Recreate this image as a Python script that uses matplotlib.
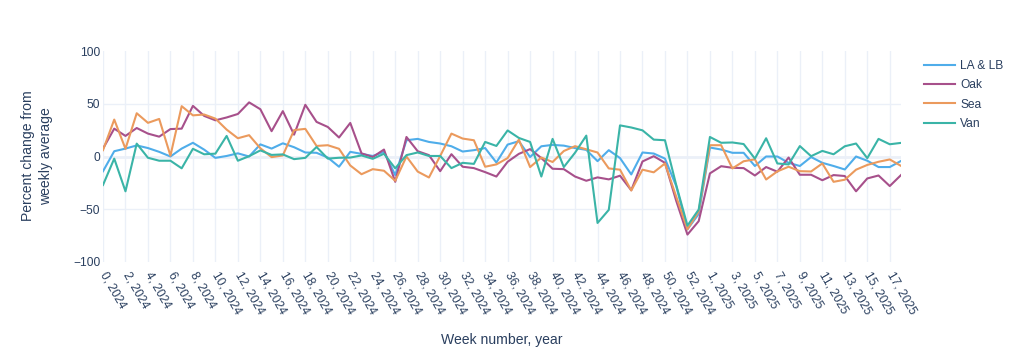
import matplotlib
matplotlib.use("Agg")
import matplotlib.pyplot as plt

weeks_2024 = [f"{w}, 2024" for w in range(0, 53)]
weeks_2025 = [f"{w}, 2025" for w in range(0, 19)]
categories = weeks_2024 + weeks_2025

la_lb = [-14, 5, 7.5, 10.5, 8, 4.4, 0, 7.5, 13, 6.5, -1.3, 0.5, 3, 0, 11.5, 7.5, 12.5, 8.8, 3.8, 3.5,
         -1, -9.7, 4.4, 2.5, 0.5, 4.4, -17.6, 15.4, 16.7, 13.8, 12.3, 9.7, 4.7, 6, 8, -5.7, 11.3, 14.5, -0.5, 9.7,
         11, 10.3, 8, 6.3, -4.4, 6, -1.5, -17, 3.8, 2.8, -2, -28, -69, -54.5, 8.5, 6.6, 3.5, 3.5, -9, 0,
         0, -6, -9, -0.5, -6, -9, -12.3, 0, -4, -10, -10, -4.2]
oak = [7.5, 26.4, 19.5, 27, 21.7, 18.8, 26, 26.4, 48, 38.5, 34.3, 37, 40.3, 51.3, 44.8, 24, 43, 20.7, 49, 32.8,
       28, 18, 31.8, 3, -0.5, 6.6, -24, 18.5, 5, 1.3, -13.9, 2.2, -9.7, -11, -14.8, -19, -5, 2.5, 7, -1.5,
       -11.6, -12, -19, -23, -19.8, -21.7, -18.2, -32, -4.7, 0.3, -6, -42, -74, -61.3, -16, -9.2, -10.7, -11, -18, -10,
       -14.4, -1, -17.3, -17.3, -22.5, -17.6, -18.5, -33, -20.8, -18, -28, -17.6]
sea = [6, 35, 7.3, 41, 31.9, 35.6, 0.8, 47.7, 39, 39.8, 35.9, 25.5, 17.3, 20.2, 7.8, -0.6, 1, 25, 26.2, 10,
       10.7, 7.3, -8.5, -16.8, -12, -13.5, -23, 0, -14.3, -19.9, 0.5, 21.7, 17, 15.4, -9.7, -7.5, -1.5, 16, -10, -1,
       -5.2, 5.2, 9.8, 6.8, 3.8, -11.3, -12.5, -32.2, -12.5, -15, -6.6, -38, -69, -52, 10.7, 10.7, -11.3, -4.5, -2.7, -21.8,
       -14.1, -9.7, -13.9, -14.2, -6.6, -24, -22, -12.5, -8, -5, -2.8, -8.9]
van = [-27, -2, -33, 12.2, -1.2, -4, -4, -11.2, 7.3, 2.1, 2.7, 19.5, -4, 0.3, 5.8, 1.5, 2, -2.5, -1.3, 9,
       -2, -1.2, -1, 1, -2.2, 2.6, -11.2, 1.3, 3.8, 0.5, 0.5, -11, -6, -7, 13.8, 10, 24.7, 17.6, 13.8, -19,
       16.7, -10, 3.6, 19.8, -63, -50.6, 29.5, 27.5, 24.8, 16, 15.4, -27, -65.5, -50.3, 18.5, 13, 13.3, 11.8, -2, 17.3,
       -6.6, -7.5, 9.9, 0.3, 5.3, 2.1, 9.7, 12.3, -1.6, 16.7, 11.6, 12.9]

series_names = ["LA & LB", "Oak", "Sea", "Van"]
series_values = [la_lb, oak, sea, van]
colors = ["#4FADEA", "#A7508B", "#EB9A5D", "#3AB4A7"]
y_ticks = [-100, -50, 0, 50, 100]
y_grid = [-50, 50]

plt.rcParams['font.family'] = ['Liberation Sans', 'DejaVu Sans']
txt = "#2a3f5f"
grid = "#EBF0F8"

fig = plt.figure(figsize=(10.2, 3.6), dpi=100)
ax = fig.add_axes([103 / 1020, 1 - 262 / 360, (901 - 103) / 1020, (262 - 51) / 360])

x = list(range(len(categories)))
for name, vals, c in zip(series_names, series_values, colors):
    ax.plot(x, vals, color=c, lw=1.5, label=name, zorder=3, solid_joinstyle='round')

ax.set_xlim(0, len(categories) - 1)
ax.set_ylim(-100, 100)
ax.set_xticks(x[::2])
ax.set_xticklabels(categories[::2], rotation=-60, ha='left', va='center', rotation_mode='anchor')
ax.set_yticks(y_ticks)
ax.set_yticklabels([str(v).replace('-', '\u2212') for v in y_ticks])
ax.tick_params(axis='both', length=0, labelsize=8.64, colors=txt)
ax.tick_params(axis='x', pad=8)
ax.tick_params(axis='y', pad=2)
ax.grid(True, axis='x', color=grid, lw=1, zorder=0)
for gy in y_grid:
    ax.axhline(gy, color=grid, lw=1, zorder=0)
ax.axhline(0, color=grid, lw=2, zorder=1)
for s in ax.spines.values():
    s.set_visible(False)

ax.set_xlabel("Week number, year", fontsize=10.08, color=txt)
ax.xaxis.set_label_coords(0.5, -(333 - 262) / 211)
fig.text(37 / 1020, 1 - 156 / 360, "Percent change from\nweekly average", rotation=90,
         ha='center', va='center', fontsize=10.08, color=txt, linespacing=1.3)

leg = ax.legend(loc='upper left', bbox_to_anchor=(919 / 1020, 1 - 55 / 360), bbox_transform=fig.transFigure,
                frameon=False, fontsize=8.64, handlelength=2.6, handletextpad=0.45, labelspacing=0.62,
                borderaxespad=0)
for t in leg.get_texts():
    t.set_color(txt)

fig.savefig("out.png", dpi=100)
